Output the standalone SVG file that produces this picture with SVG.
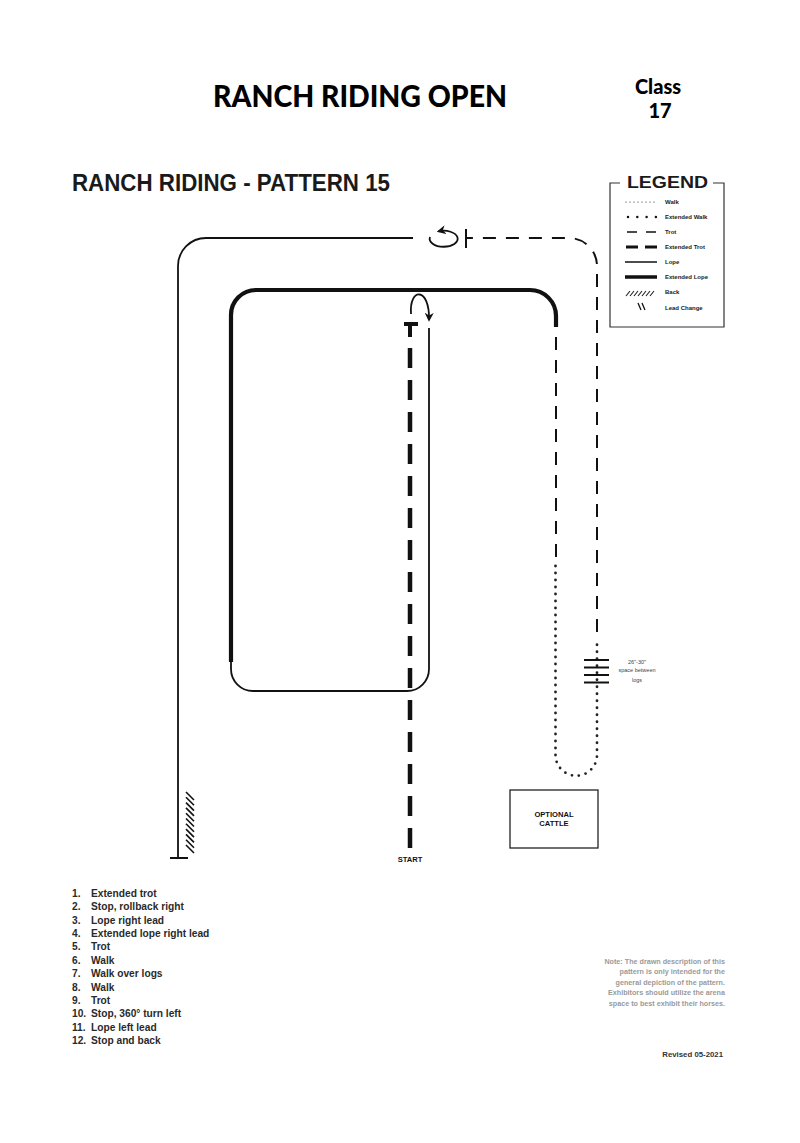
<svg xmlns="http://www.w3.org/2000/svg" width="800" height="1143" viewBox="0 0 800 1143">
<style>
.t{font-family:"Liberation Sans",Arial,sans-serif;font-weight:bold;fill:#111}
.h{font-family:Lato,"Liberation Sans",sans-serif;font-weight:900;fill:#000}
.li{font-family:"Liberation Sans",Arial,sans-serif;font-weight:bold;font-size:10.2px;fill:#2a2a2a}
.lg{font-family:"Liberation Sans",Arial,sans-serif;font-weight:bold;font-size:6px;fill:#222}
.note{font-family:"Liberation Sans",Arial,sans-serif;font-weight:bold;font-size:7.2px;fill:#9a9a9a;text-anchor:end}
.thin{fill:none;stroke:#111;stroke-width:1.8}
.thick{fill:none;stroke:#111;stroke-width:4.2}
.trot{fill:none;stroke:#111;stroke-width:2;stroke-dasharray:13 10}
.xtrot{fill:none;stroke:#111;stroke-width:4.5;stroke-dasharray:20 12}
.walk{fill:none;stroke:#222;stroke-width:2.8;stroke-linecap:round;stroke-dasharray:0 7}
</style>
<defs>
<marker id="arr" viewBox="0 0 10 10" refX="8" refY="5" markerWidth="9" markerHeight="9" markerUnits="userSpaceOnUse" orient="auto">
<path d="M0,0 L10,5 L0,10 L3,5 z" fill="#111"/>
</marker>
</defs>
<rect width="800" height="1143" fill="#fff"/>

<g id="header">
<text class="h" x="213" y="107" font-size="30" textLength="294" lengthAdjust="spacingAndGlyphs">RANCH RIDING OPEN</text>
<text class="h" x="658" y="94" font-size="20" text-anchor="middle">Class</text>
<text class="h" x="660" y="118" font-size="20" text-anchor="middle">17</text>
<text class="t" x="72" y="191" font-size="23" textLength="318" lengthAdjust="spacingAndGlyphs" style="font-weight:900;fill:#1a1a1a">RANCH RIDING - PATTERN 15</text>
</g>

<g id="legend">
<path d="M620 183 H610 V327 H724 V183 H713" fill="none" stroke="#333" stroke-width="1.2"/>
<text class="t" x="627" y="188" font-size="17" textLength="81" lengthAdjust="spacingAndGlyphs" style="font-weight:900;fill:#1a1a1a">LEGEND</text>
<line x1="626" y1="202" x2="656" y2="202" stroke="#222" stroke-width="1.2" stroke-linecap="round" stroke-dasharray="0 4"/>
<line x1="628" y1="217" x2="656" y2="217" stroke="#111" stroke-width="2.5" stroke-linecap="round" stroke-dasharray="0 9.3"/>
<line x1="627" y1="232" x2="656" y2="232" stroke="#111" stroke-width="1.5" stroke-dasharray="10 9"/>
<line x1="626" y1="247" x2="657" y2="247" stroke="#111" stroke-width="3" stroke-dasharray="12 7"/>
<line x1="625" y1="262" x2="657" y2="262" stroke="#111" stroke-width="1.5"/>
<line x1="625" y1="277" x2="657" y2="277" stroke="#111" stroke-width="3.5"/>
<path d="M626 296 l4 -5 M630 296 l4 -5 M634 296 l4 -5 M638 296 l4 -5 M642 296 l4 -5 M646 296 l4 -5 M650 296 l4 -5" stroke="#222" stroke-width="1.1" fill="none"/>
<path d="M638 303 l3 7 M642 303 l3 7" stroke="#111" stroke-width="1.3" fill="none"/>
<text class="lg" x="665" y="204">Walk</text>
<text class="lg" x="665" y="219">Extended Walk</text>
<text class="lg" x="665" y="234">Trot</text>
<text class="lg" x="665" y="249">Extended Trot</text>
<text class="lg" x="665" y="264">Lope</text>
<text class="lg" x="665" y="279">Extended Lope</text>
<text class="lg" x="665" y="294">Back</text>
<text class="lg" x="665" y="310">Lead Change</text>
</g>

<g id="connectors">
<path class="xtrot" d="M410 848 V346"/>
<path d="M404 324 H418 M410 324 V337" stroke="#111" stroke-width="4" fill="none"/>
<path class="thin" d="M411 314 C409 287 430 287 429 320" marker-end="url(#arr)"/>
<path class="thin" d="M429 328 V669 A22 22 0 0 1 407 691 H253 A22 22 0 0 1 231 669 V660"/>
<path class="thick" d="M231 662 V315 A25 25 0 0 1 256 290 H530 A26 26 0 0 1 556 316 V327"/>
<path class="trot" d="M556 337 V558"/>
<path class="walk" d="M555.5 566 V755 A20.75 20.75 0 0 0 597 755 V643"/>
<path class="trot" d="M597 632 V266 A28 28 0 0 0 569 238 H466"/>
<path d="M466 229 V248" stroke="#111" stroke-width="2" fill="none"/>
<path class="thin" d="M430 237 A14 8 0 1 0 438.5 231.3" marker-end="url(#arr)"/>
<path class="thin" d="M413 238 H206 A28 28 0 0 0 178 266 V858"/>
<path d="M170 858 H188" stroke="#111" stroke-width="2" fill="none"/>
<path d="M186 792 l8 8 M186 797.3 l8 8 M186 802.6 l8 8 M186 807.9 l8 8 M186 813.2 l8 8 M186 818.5 l8 8 M186 823.8 l8 8 M186 829.1 l8 8 M186 834.4 l8 8 M186 839.7 l8 8 M186 845 l8 8" stroke="#111" stroke-width="1.6" fill="none"/>
</g>

<g id="logs">
<path d="M584 660 H609 M584 667.5 H609 M584 675 H609 M584 682.5 H609" stroke="#111" stroke-width="2" fill="none"/>
<text class="t" x="637" y="664" font-size="5.5" text-anchor="middle" style="font-weight:normal;fill:#444">26"-30"</text>
<text class="t" x="637" y="672" font-size="5.5" text-anchor="middle" style="font-weight:normal;fill:#444">space between</text>
<text class="t" x="637" y="682" font-size="5.5" text-anchor="middle" style="font-weight:normal;fill:#444">logs</text>
</g>

<g id="cattle">
<rect x="510" y="790" width="88" height="58" fill="none" stroke="#222" stroke-width="1.3"/>
<text class="t" x="554" y="817" font-size="7.6" text-anchor="middle">OPTIONAL</text>
<text class="t" x="554" y="826" font-size="7.6" text-anchor="middle">CATTLE</text>
</g>

<g id="start">
<text class="t" x="410" y="862" font-size="7.6" text-anchor="middle">START</text>
</g>

<g id="steps">
<text class="li" x="72" y="897">1.</text><text class="li" x="91" y="897">Extended trot</text>
<text class="li" x="72" y="910.4">2.</text><text class="li" x="91" y="910.4">Stop, rollback right</text>
<text class="li" x="72" y="923.7">3.</text><text class="li" x="91" y="923.7">Lope right lead</text>
<text class="li" x="72" y="937.1">4.</text><text class="li" x="91" y="937.1">Extended lope right lead</text>
<text class="li" x="72" y="950.4">5.</text><text class="li" x="91" y="950.4">Trot</text>
<text class="li" x="72" y="963.8">6.</text><text class="li" x="91" y="963.8">Walk</text>
<text class="li" x="72" y="977.2">7.</text><text class="li" x="91" y="977.2">Walk over logs</text>
<text class="li" x="72" y="990.5">8.</text><text class="li" x="91" y="990.5">Walk</text>
<text class="li" x="72" y="1003.9">9.</text><text class="li" x="91" y="1003.9">Trot</text>
<text class="li" x="72" y="1017.2">10.</text><text class="li" x="91" y="1017.2">Stop, 360° turn left</text>
<text class="li" x="72" y="1030.6">11.</text><text class="li" x="91" y="1030.6">Lope left lead</text>
<text class="li" x="72" y="1044">12.</text><text class="li" x="91" y="1044">Stop and back</text>
</g>

<g id="note">
<text class="note" x="725" y="963.5">Note: The drawn description of this</text>
<text class="note" x="725" y="974">pattern is only intended for the</text>
<text class="note" x="725" y="984.5">general depiction of the pattern.</text>
<text class="note" x="725" y="995">Exhibitors should utilize the arena</text>
<text class="note" x="725" y="1005.5">space to best exhibit their horses.</text>
<text class="t" x="723" y="1057" font-size="7.8" text-anchor="end" style="fill:#333">Revised 05-2021</text>
</g>
</svg>
